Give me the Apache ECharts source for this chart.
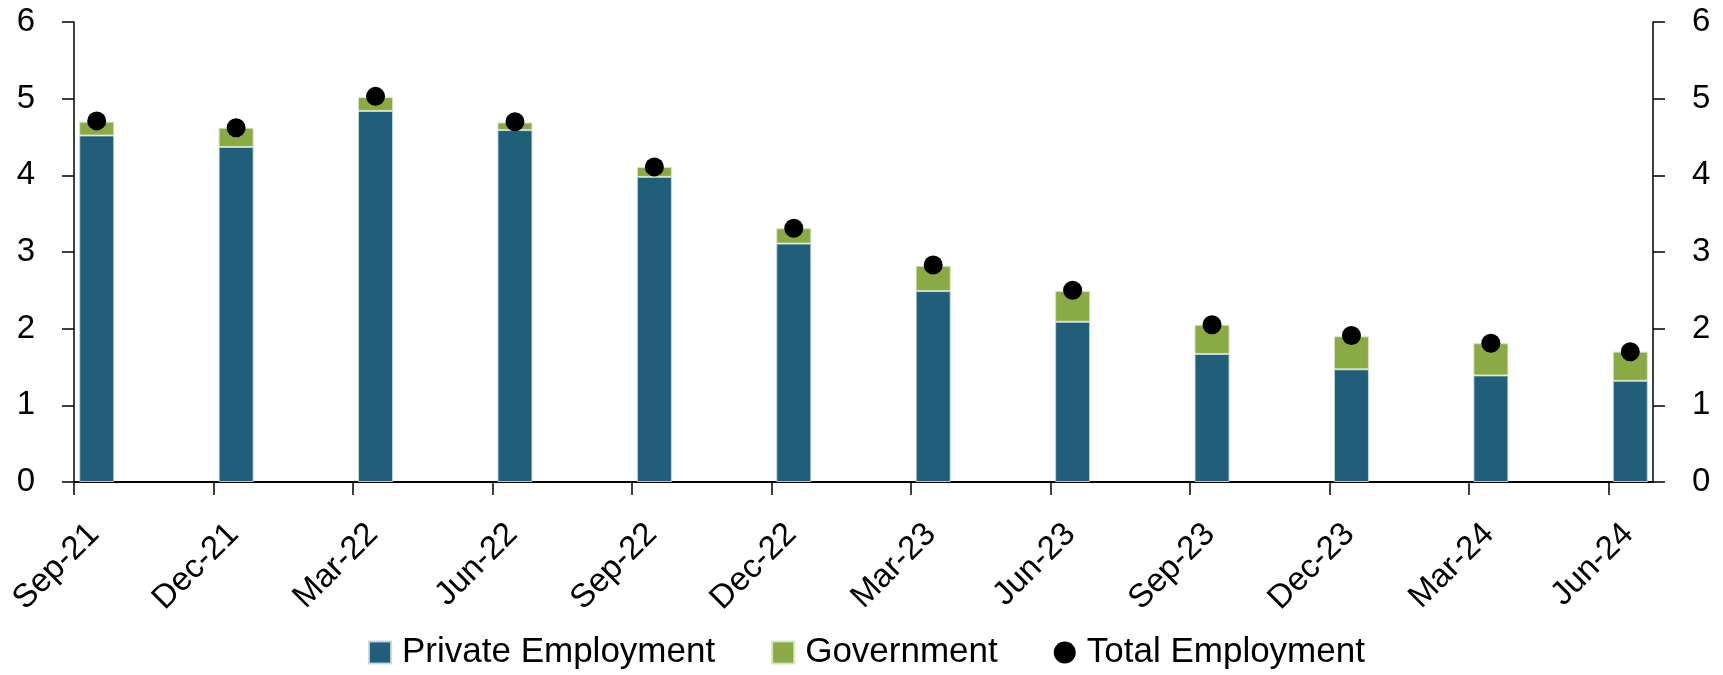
<!DOCTYPE html>
<html>
<head>
<meta charset="utf-8">
<script src="https://cdn.jsdelivr.net/npm/echarts@6/dist/echarts.min.js"></script>
<style>
html,body{margin:0;padding:0;background:#fff;}
#chart{width:1723px;height:675px;}
</style>
</head>
<body>
<div id="chart"></div>
<script>
const categories = ['Sep-21','Dec-21','Mar-22','Jun-22','Sep-22','Dec-22','Mar-23','Jun-23','Sep-23','Dec-23','Mar-24','Jun-24'];
const privateEmployment = [4.52, 4.37, 4.84, 4.59, 3.98, 3.11, 2.49, 2.09, 1.67, 1.47, 1.39, 1.32];
const government = [0.18, 0.25, 0.18, 0.10, 0.13, 0.20, 0.33, 0.40, 0.38, 0.43, 0.42, 0.38];
const totalEmployment = [4.71, 4.62, 5.03, 4.70, 4.11, 3.31, 2.83, 2.50, 2.05, 1.91, 1.81, 1.70];
const yTicks = [0, 1, 2, 3, 4, 5, 6];

const tickPositions = categories.map((c, i) => i);
const LABEL_SHIFT = 0.143; // labels sit slightly right of their tick, as in the source
const labelPositions = tickPositions.map(i => i + LABEL_SHIFT);

const FONT = "'Liberation Sans', Arial, sans-serif";
const BLUE = '#215e79';
const GREEN = '#8aaa45';

const chart = echarts.init(document.getElementById('chart'), null, {renderer: 'canvas'});

const yAxisCommon = {
  type: 'value', min: yTicks[0], max: yTicks[yTicks.length - 1], interval: 1,
  splitLine: {show: false},
  axisLine: {show: true, lineStyle: {color: '#000', width: 1.5}},
  axisTick: {show: true, length: 12, lineStyle: {color: '#000', width: 1.5}},
  axisLabel: {color: '#000', fontSize: 33, fontFamily: FONT, margin: 39}
};

const option = {
  animation: false,
  backgroundColor: '#fff',
  grid: [
    {left: 74, right: 70, top: 22, bottom: 193, outerBoundsMode: 'none', containLabel: false},
    {left: 27, width: 1673, top: 22, bottom: 193, outerBoundsMode: 'none', containLabel: false}
  ],
  xAxis: [
    {
      type: 'value', gridIndex: 0, min: 0, max: 11.32, interval: 1,
      splitLine: {show: false},
      axisLine: {show: true, onZero: false, lineStyle: {color: '#000', width: 2}},
      axisTick: {show: true, length: 13, customValues: tickPositions, lineStyle: {color: '#000', width: 1.5}},
      axisLabel: {
        customValues: labelPositions,
        formatter: v => categories[Math.round(v - LABEL_SHIFT)] || '',
        rotate: 45, color: '#000', fontSize: 33, fontFamily: FONT, margin: 47
      }
    },
    {type: 'category', gridIndex: 1, data: categories, show: false, boundaryGap: true}
  ],
  yAxis: [
    Object.assign({gridIndex: 0, position: 'left'}, yAxisCommon),
    Object.assign({gridIndex: 0, position: 'right'}, yAxisCommon),
    {type: 'value', gridIndex: 1, min: 0, max: 6, show: false}
  ],
  legend: {
    left: 363, top: 630,
    itemWidth: 22, itemHeight: 22, itemGap: 56,
    textStyle: {color: '#000', fontSize: 35, fontFamily: FONT, padding: [0, 0, 0, 6]},
    data: [
      {name: 'Private Employment', icon: 'rect'},
      {name: 'Government', icon: 'rect'},
      {name: 'Total Employment', icon: 'circle'}
    ]
  },
  series: [
    {
      name: 'Private Employment', type: 'bar', stack: 'emp', xAxisIndex: 1, yAxisIndex: 2,
      barWidth: 35, data: privateEmployment,
      itemStyle: {color: BLUE, borderColor: 'rgba(200,215,222,0.9)', borderWidth: 1}
    },
    {
      name: 'Government', type: 'bar', stack: 'emp', xAxisIndex: 1, yAxisIndex: 2,
      barWidth: 35, data: government,
      itemStyle: {color: GREEN, borderColor: 'rgba(215,228,190,0.9)', borderWidth: 1}
    },
    {
      name: 'Total Employment', type: 'scatter', xAxisIndex: 1, yAxisIndex: 2,
      symbol: 'circle', symbolSize: 19, data: totalEmployment, z: 5,
      itemStyle: {color: '#000', opacity: 1}
    }
  ]
};
chart.setOption(option);
</script>
</body>
</html>
